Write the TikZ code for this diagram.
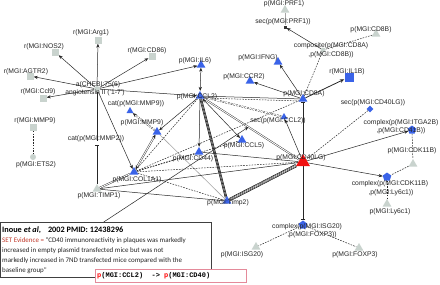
\documentclass[tikz,border=0pt]{standalone}
\usepackage{fontspec}
\setmainfont{Liberation Sans}
\newfontfamily\evfont{Carlito}
\newfontfamily\pmono{Liberation Mono}
\usetikzlibrary{shapes.geometric,arrows.meta,calc}
\pgfdeclarelayer{bgl}
\pgfdeclarelayer{edges}
\pgfsetlayers{bgl,edges,main}
\definecolor{nblue}{HTML}{3A63E8}
\definecolor{ngray}{HTML}{C9D3CE}
\definecolor{nred}{HTML}{F01010}
\definecolor{evred}{HTML}{C0392B}
\definecolor{pinkb}{HTML}{E48A9A}
\tikzset{
  lbl/.style={font=\fontsize{6.8}{7}\selectfont, inner sep=0pt, text=black!85},
  gsq/.style={rectangle, fill=ngray, minimum size=7bp, inner sep=0pt},
  bsq/.style={rectangle, fill=nblue, minimum size=9bp, inner sep=0pt},
  gtri/.style={regular polygon, regular polygon sides=3, fill=ngray, minimum size=10bp, inner sep=0pt},
  btri/.style={regular polygon, regular polygon sides=3, fill=nblue, minimum size=10bp, inner sep=0pt},
  rtri/.style={regular polygon, regular polygon sides=3, fill=nred, minimum size=16bp, inner sep=0pt},
  bdia/.style={diamond, fill=nblue, minimum size=7bp, inner sep=0pt},
  bpent/.style={regular polygon, regular polygon sides=5, fill=nblue, minimum size=9bp, inner sep=0pt},
  gdot/.style={circle, fill=ngray, minimum size=6bp, inner sep=0pt},
  kdot/.style={rectangle, fill=black!80, minimum size=3bp, inner sep=0pt},
  hid/.style={inner sep=0pt, minimum size=4bp},
  ln/.style={draw=black!85, line width=0.5bp},
  arr/.style={ln, -{Stealth[length=4bp,width=3.2bp]}},
  arrb/.style={ln, {Stealth[length=4bp,width=3.2bp]}-{Stealth[length=4bp,width=3.2bp]}},
  tee/.style={ln, -{Bar[width=4.5bp,line width=1bp]}},
  dsh/.style={draw=black!85, line width=0.5bp, dash pattern=on 1.6bp off 1.2bp},
  grayln/.style={draw=black!35, line width=0.6bp},
  dbl/.style={draw=black!85, line width=0.4bp, double=white, double distance=0.9bp},
  bundle/.style={draw=black, line width=0.5bp,
     preaction={draw=black, line width=2.4bp},
     preaction={draw=white, line width=1.1bp}},
  bundlefour/.style={draw=black, line width=0.4bp, double=white, double distance=0.5bp,
     preaction={draw=black, line width=3.2bp},
     preaction={draw=white, line width=2.0bp}},
  evtxt/.style={anchor=west, inner sep=0pt, font=\evfont\fontsize{7}{8}\selectfont, text=black!85}
}
\begin{document}
\begin{tikzpicture}[x=1bp,y=-1bp]
\useasboundingbox (0,0) rectangle (440,284);
\begin{pgfonlayer}{bgl}
\fill[white] (0,0) rectangle (440,284);
\end{pgfonlayer}

% ---------- nodes ----------
\node[gdot] (hub) at (97,89) {};
\node[gsq] (arg1) at (98,40) {};
\node[gsq] (nos2) at (55,52) {};
\node[gsq] (agtr2) at (30,76) {};
\node[gsq] (ccl9) at (43,98) {};
\node[gsq] (cd86) at (152,56) {};
\node[gsq] (mmp9r) at (33,127) {};
\node[gdot] (ets2) at (33,157) {};
\node[btri, minimum size=8bp] (catmmp9) at (130,111) {};
\node[btri] (mmp9) at (157,132) {};
\node[hid] (catmmp2) at (97,143) {};
\node[gtri] (timp1) at (97,189) {};
\node[btri] (col1a1) at (134,172) {};
\node[btri] (ccl2) at (200,96) {};
\node[btri] (il6) at (201,65) {};
\node[btri] (ccr2) at (250,81) {};
\node[btri] (ifng) at (278,62) {};
\node[gtri] (prf1) at (285,10) {};
\node[kdot] (secprf1) at (285,27) {};
\node[gdot, minimum size=5bp] (composite) at (323,50) {};
\node[gtri] (cd8b) at (376,34) {};
\node[bsq] (il1b) at (349,77) {};
\node[btri] (cd8a) at (303,99) {};
\node[bdia] (sec40) at (370,109) {};
\node[bpent] (itga) at (412,130) {};
\node[gtri] (cdk11b) at (413,164) {};
\node[bpent] (cdkly) at (387,177) {};
\node[gtri] (ly6c1) at (387,204) {};
\node[rtri] (cd40lg) at (303,162) {};
\node[bpent] (isgcx) at (303,225) {};
\node[gtri] (isg20) at (256,247) {};
\node[gtri] (foxp3) at (359,248) {};
\node[btri, minimum size=8bp] (secccl2) at (284,117) {};
\node[btri] (ccl5) at (242,140) {};
\node[btri] (cd44) at (199,152) {};
\node[btri] (timp2) at (227,201) {};

% ---------- labels ----------
\node[lbl] (l-arg1) at (91,33) {r(MGI:Arg1)};
\node[lbl] (l-nos2) at (44,47) {r(MGI:NOS2)};
\node[lbl] (l-agtr2) at (26,72) {r(MGI:AGTR2)};
\node[lbl] (l-ccl9) at (38,92) {r(MGI:Ccl9)};
\node[lbl] (l-cd86) at (147,51) {r(MGI:CD86)};
\node[lbl] (l-mmp9r) at (35,121) {r(MGI:MMP9)};
\node[lbl] (l-ets2) at (36,165) {p(MGI:ETS2)};
\node[lbl] (l-hub1) at (98,85) {a(CHEBI:75(6)};
\node[lbl] (l-hub2) at (95,93) {angiotensin II ('1-7')};
\node[lbl] (l-catmmp9) at (136,104) {cat(p(MGI:MMP9))};
\node[lbl] (l-mmp9) at (142,123) {p(MGI:MMP9)};
\node[lbl] (l-catmmp2) at (96,139) {cat(p(MGI:MMP2))};
\node[lbl] (l-timp1) at (99,196) {p(MGI:TIMP1)};
\node[lbl] (l-col1a1) at (137,180) {p(MGI:COL1A1)};
\node[lbl] (l-ccl2) at (197,97) {p(MGI:CCL2)};
\node[lbl] (l-il6) at (195,61) {p(MGI:IL6)};
\node[lbl] (l-ccr2) at (244,77) {p(MGI:CCR2)};
\node[lbl] (l-ifng) at (258,58) {p(MGI:IFNG)};
\node[lbl] (l-prf1) at (284,4) {p(MGI:PRF1)};
\node[lbl] (l-secprf1) at (283,22) {sec(p(MGI:PRF1))};
\node[lbl] (l-comp1) at (331,46) {composite(p(MGI:CD8A)};
\node[lbl] (l-comp2) at (331,55) {,p(MGI:CD8B))};
\node[lbl] (l-cd8b) at (371,30) {p(MGI:CD8B)};
\node[lbl] (l-il1b) at (347,72) {r(MGI:IL1B)};
\node[lbl] (l-cd8a) at (304,94) {p(MGI:CD8A)};
\node[lbl] (l-sec40) at (373,103) {sec(p(MGI:CD40LG))};
\node[lbl] (l-itga1) at (401,123) {complex(p(MGI:ITGA2B)};
\node[lbl] (l-itga2) at (401,131) {,p(MGI:CD41B))};
\node[lbl] (l-cdk11b) at (412,151) {p(MGI:CDK11B)};
\node[lbl] (l-cdkly1) at (390,184) {complex(p(MGI:CDK11B)};
\node[lbl] (l-cdkly2) at (391,193) {,p(MGI:Ly6c1))};
\node[lbl] (l-ly6c1) at (390,212) {p(MGI:Ly6c1)};
\node[lbl] (l-cd40lg) at (301,158) {p(MGI:CD40LG)};
\node[lbl] (l-isgcx1) at (307,227) {complex(p(MGI:ISG20)};
\node[lbl] (l-isgcx2) at (312,235) {,p(MGI:FOXP3))};
\node[lbl] (l-isg20) at (242,255) {p(MGI:ISG20)};
\node[lbl] (l-foxp3) at (355,255) {p(MGI:FOXP3)};
\node[lbl] (l-secccl2) at (278,121) {sec(p(MGI:CCL2))};
\node[lbl] (l-ccl5) at (244,146) {p(MGI:CCL5)};
\node[lbl] (l-cd44) at (193,159) {p(MGI:CD44)};
\node[lbl] (l-timp2) at (228,203) {p(MGI:Timp2)};

\coordinate (ptr) at ($(ccl2)!0.47!(cd40lg)$);

% ---------- evidence box ----------
\node[draw=black!75, line width=0.7bp, fill=white, anchor=north west,
      minimum width=211bp, minimum height=55bp, inner sep=0pt] (ev) at (0,222) {};
\node[anchor=west, inner sep=0pt, font=\evfont\bfseries\fontsize{8.3}{9}\selectfont] (evtitle) at (2,230.5)
  {Inoue \textit{et al},\hspace{7bp}2002 PMID: 12438296};
\node[evtxt] (ev1) at (2,241) {{\color{evred}SET Evidence =} "CD40 immunoreactivity in plaques was markedly};
\node[evtxt] (ev2) at (2,251) {increased in empty plasmid transfected mice but was not};
\node[evtxt] (ev3) at (2,261) {markedly increased in 7ND transfected mice compared with the};
\node[evtxt] (ev4) at (2,270.5) {baseline group"};
\node[draw=pinkb, line width=1.1bp, fill=white, anchor=north west,
      minimum width=151bp, minimum height=13bp, inner sep=0pt] (pinkbox) at (95,269) {};
\node[anchor=west, inner sep=0pt, font=\pmono\bfseries\fontsize{7}{8}\selectfont] (pinktxt) at (97,275.5)
  {{\color{red}p}(MGI:CCL2)\ \ ->\ {\color{red}p}(MGI:CD40)};

% ---------- edges ----------
\begin{pgfonlayer}{edges}
\draw[arr] (hub) -- (arg1);
\draw[arr] (hub) -- (nos2);
\draw[arr] (hub) -- (agtr2);
\draw[arr] (hub) -- (ccl9);
\draw[arr] (hub) -- (cd86);
\draw[arr] (hub) -- (il6);
\draw[arr] (hub) -- (ccl2);
\draw[ln] (hub) -- (catmmp2);
\draw[arr] (hub) -- (col1a1);
\draw[tee] (timp1) -- (catmmp2);
\draw[dsh] (mmp9r) -- (ets2);
\draw[dsh, double=white, double distance=0.9bp, line width=0.4bp, -{Stealth[length=4bp,width=3.5bp]}] (mmp9) -- (catmmp9);
\draw[dbl, {Stealth[length=4bp,width=3.5bp]}-{Stealth[length=4bp,width=3.5bp]}] (col1a1) -- (mmp9);
\draw[arr] (ccl2) -- (mmp9);
\draw[grayln] (mmp9) -- (timp2);
\draw[arrb] (ccl2) -- (il6);
\draw[arr] (cd8a) -- (ccr2);
\draw[arr] (cd8a) -- (ifng);
\draw[ln, line width=0.8bp, -{Stealth[length=4.5bp,width=3.6bp]}] (cd8a) -- (il1b);
\draw[dsh] (cd8a) -- (composite);
\draw[ln] (ccl2) -- (cd8a);
\draw[dsh] ([yshift=-2bp]ccl2.east) -- ([yshift=-2bp]cd8a.west);
\draw[arr] (composite) -- (secprf1);
\draw[grayln] (prf1) -- (secprf1);
\draw[dsh] (cd8b) -- (composite);
\draw[tee] (cd40lg) -- (cd8a);
\draw[arr] (cd40lg) -- (secccl2);
\draw[arr] (cd40lg) -- (itga);
\draw[arr] (cd40lg) -- (cdkly);
\draw[tee] (cd40lg) -- (isgcx);
\draw[dsh] (sec40) -- (cd40lg);
\draw[dsh] (itga) -- (cdk11b);
\draw[dsh] (cdk11b) -- (cdkly);
\draw[dsh] (cdkly) -- (ly6c1);
\draw[dsh] (isgcx) -- (isg20);
\draw[dsh] (isgcx) -- (foxp3);
\draw[arr] (ccl2) -- (cd44);
\draw[arrb] (ccl2) -- (ccl5);
\draw[bundle] (ccl2) -- (timp2);
\draw[dbl] (ccl2) -- (cd40lg);
\draw[dsh, double=white, double distance=0.9bp, line width=0.4bp] (ccl2) -- (secccl2);
\draw[bundlefour] (cd40lg) -- (timp2);
\draw[ln] (cd44) -- (cd40lg);
\draw[dsh] (col1a1) -- (cd40lg);
\draw[ln] (timp1) -- (cd40lg);
\draw[dsh] (col1a1) -- (ccl2);
\draw[dsh] (col1a1) -- (ccl5);
\draw[dsh] (col1a1) -- (cd44);
\draw[dsh] (col1a1) -- (timp2);
\draw[dsh] (col1a1) -- (cd8a);
\draw[dbl] (timp1) -- (col1a1);
\draw[ln] (timp1) -- (timp2);
\draw[arr] ($(ev.north west)!0.49!(ev.north east)$) -- (ptr);
\end{pgfonlayer}
\end{tikzpicture}
\end{document}
